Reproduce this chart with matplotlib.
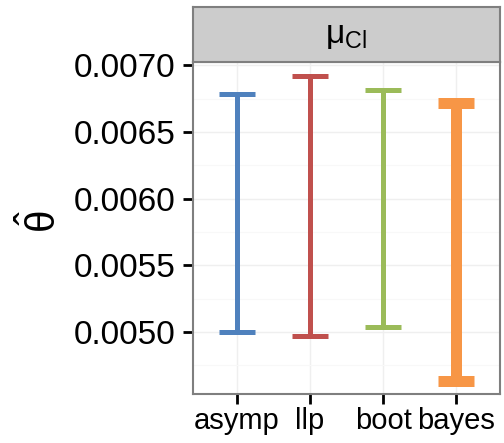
import matplotlib
matplotlib.use("Agg")
import matplotlib.pyplot as plt
from matplotlib.ticker import FixedLocator

plt.rcParams['font.family'] = ['Liberation Sans', 'DejaVu Sans']
plt.rcParams['mathtext.fontset'] = 'custom'
plt.rcParams['mathtext.rm'] = 'Liberation Sans'
plt.rcParams['mathtext.it'] = 'Liberation Sans:italic'

methods = ['asymp', 'llp', 'boot', 'bayes']
lower = [0.005000, 0.004970, 0.005040, 0.004633]
upper = [0.006783, 0.006920, 0.006816, 0.006720]
colors = ['#4F81BD', '#C0504D', '#9BBB59', '#F79646']
widths_px = [5, 5, 5, 11]
yticks = [0.0050, 0.0055, 0.0060, 0.0065, 0.0070]
ytick_labels = ['0.0050', '0.0055', '0.0060', '0.0065', '0.0070']
strip_label = r'$\mathrm{\mu}_{\mathrm{Cl}}$'

W, H = 504, 443
dpi = 100
fig = plt.figure(figsize=(W / dpi, H / dpi), dpi=dpi)

pl, pr, pt, pb = 193, 500, 62, 394
ax = fig.add_axes([pl / W, 1 - pb / H, (pr - pl) / W, (pb - pt) / H])
sax = fig.add_axes([pl / W, 1 - pt / H, (pr - pl) / W, (pt - 7) / H])

x = list(range(1, len(methods) + 1))
ax.set_xlim(0.4, len(methods) + 0.6)
ax.set_ylim(0.004534, 0.007026)

ax.yaxis.set_major_locator(FixedLocator(yticks))
ax.yaxis.set_minor_locator(FixedLocator([0.00475, 0.00525, 0.00575, 0.00625, 0.00675]))
ax.set_yticklabels(ytick_labels)
ax.set_xticks(x)
ax.set_xticklabels(methods)

ax.grid(True, which='major', color='#EFEFEF', lw=1.0, zorder=0)
ax.grid(True, which='minor', axis='y', color='#F8F8F8', lw=0.8, zorder=0)

cap_half = 0.25
for xi, lo, hi, c, w in zip(x, lower, upper, colors, widths_px):
    lw = w * 72 / dpi
    ax.vlines(xi, lo, hi, color=c, lw=lw, zorder=3, capstyle='butt')
    ax.hlines([lo, hi], xi - cap_half, xi + cap_half, color=c, lw=lw, zorder=3, capstyle='butt')

for s in ax.spines.values():
    s.set_color('#7F7F7F')
    s.set_linewidth(1.5)

ax.tick_params(axis='both', which='major', length=7.5, width=2, color='black',
               labelcolor='black')
ax.tick_params(axis='y', labelsize=24, pad=5)
ax.tick_params(axis='x', labelsize=21, pad=2)
ax.tick_params(which='minor', length=0)

ax.set_ylabel(r'$\hat{\mathrm{\theta}}$', fontsize=29)
ax.yaxis.set_label_coords(64 / W, 0.5, transform=fig.transFigure)

sax.set_facecolor('#CCCCCC')
sax.set_xticks([])
sax.set_yticks([])
for s in sax.spines.values():
    s.set_color('#7F7F7F')
    s.set_linewidth(1.5)
sax.text(0.5, 0.48, strip_label, transform=sax.transAxes, ha='center', va='center', fontsize=24)

fig.savefig('out.png', dpi=dpi)
